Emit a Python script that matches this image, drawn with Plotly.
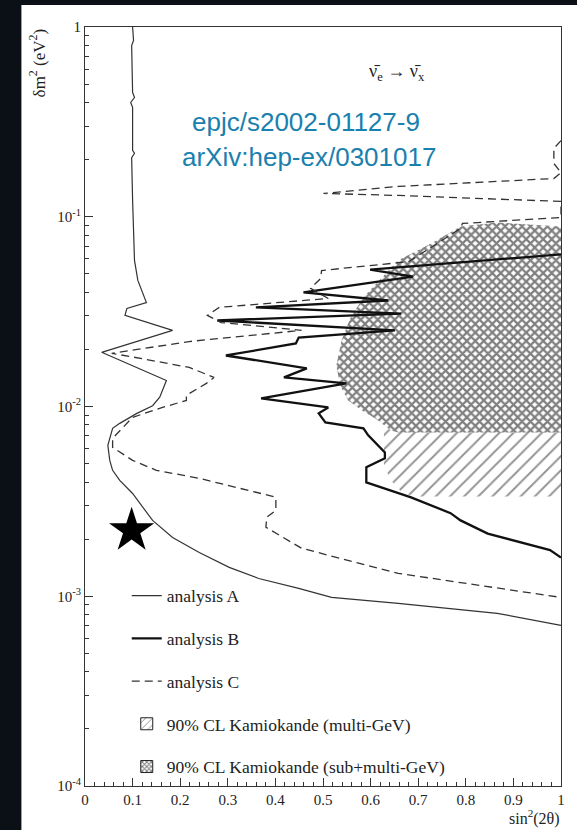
import plotly.graph_objects as go

# ---- data (sin^2(2theta), delta m^2 [eV^2]) ----
a_sin2 = [0.100, 0.102, 0.098, 0.100, 0.104, 0.096, 0.100, 0.100, 0.104, 0.098, 0.100, 0.102, 0.104,
          0.111, 0.129, 0.088, 0.084, 0.184, 0.035, 0.171, 0.157, 0.142, 0.109, 0.073, 0.058, 0.048,
          0.052, 0.058, 0.073, 0.100, 0.142, 0.184, 0.240, 0.303, 0.365, 0.449, 0.518, 0.658, 0.866, 1.0]
a_dm2 = [1.0, 0.849, 0.799, 0.452, 0.425, 0.400, 0.377, 0.224, 0.216, 0.205, 0.122, 0.075, 0.0589,
         0.0462, 0.0353, 0.0329, 0.0302, 0.0252, 0.0193, 0.0137, 0.0112, 0.0101, 0.0092, 0.00815,
         0.00767, 0.00624, 0.00520, 0.00461, 0.00408, 0.00348, 0.00251, 0.00204, 0.00170, 0.00142,
         0.00124, 0.00110, 0.000986, 0.000918, 0.000813, 0.000703]

b_sin2 = [1.0, 0.599, 0.689, 0.459, 0.637, 0.359, 0.664, 0.278, 0.651, 0.449, 0.443, 0.296, 0.466,
          0.418, 0.549, 0.370, 0.511, 0.491, 0.505, 0.585, 0.595, 0.630, 0.630, 0.591, 0.591, 0.685,
          0.768, 0.789, 0.846, 0.977, 1.0]
b_dm2 = [0.0633, 0.0527, 0.0484, 0.0399, 0.0362, 0.0333, 0.0309, 0.0284, 0.0252, 0.0231, 0.0215,
         0.01857, 0.01589, 0.01423, 0.01324, 0.01104, 0.00989, 0.00920, 0.00824, 0.00767, 0.00705,
         0.00573, 0.00533, 0.00478, 0.00398, 0.00332, 0.00274, 0.00251, 0.00214, 0.00175, 0.00160]

c_sin2 = [1.0, 0.985, 0.985, 1.0, 0.985, 0.658, 0.501, 0.658, 1.0, 1.0, 0.793, 0.789, 0.68, 0.497,
          0.495, 0.474, 0.511, 0.282, 0.257, 0.286, 0.455, 0.219, 0.056, 0.094, 0.219, 0.271, 0.255,
          0.213, 0.213, 0.163, 0.100, 0.058, 0.058, 0.100, 0.150, 0.240, 0.386, 0.401, 0.401, 0.382,
          0.380, 0.455, 0.658, 0.866, 1.0]
c_dm2 = [0.252, 0.229, 0.191, 0.171, 0.159, 0.1445, 0.1327, 0.1295, 0.1204, 0.0991, 0.0922, 0.0868,
         0.058, 0.0521, 0.0473, 0.0419, 0.0371, 0.0333, 0.0302, 0.0277, 0.0252, 0.0220, 0.01905,
         0.01836, 0.01607, 0.01423, 0.01324, 0.01145, 0.01077, 0.00989, 0.00877, 0.00679, 0.00609,
         0.00520, 0.00461, 0.00418, 0.00340, 0.00332, 0.00284, 0.00261, 0.00231, 0.00179, 0.00132,
         0.00110, 0.000986]

kam_multi_sin2 = [0.628, 0.628, 0.643, 0.668, 0.699, 1.0, 1.0, 0.628]
kam_multi_dm2 = [0.00895, 0.00489, 0.00408, 0.00348, 0.00336, 0.00336, 0.00895, 0.00895]

kam_sub_sin2 = [1.0, 0.866, 0.789, 0.727, 0.658, 0.622, 0.585, 0.557, 0.539, 0.528, 0.536, 0.553,
                0.585, 0.610, 0.643, 0.658, 1.0, 1.0]
kam_sub_dm2 = [0.0889, 0.0933, 0.0889, 0.0723, 0.0589, 0.0473, 0.0376, 0.0291, 0.0223, 0.01644,
               0.01292, 0.01077, 0.00942, 0.00865, 0.00748, 0.00730, 0.00730, 0.0889]

star_sin2 = [0.098]
star_dm2 = [0.00222]

xtick_vals = [0, 0.1, 0.2, 0.3, 0.4, 0.5, 0.6, 0.7, 0.8, 0.9, 1.0]
xtick_text = ["0", "0.1", "0.2", "0.3", "0.4", "0.5", "0.6", "0.7", "0.8", "0.9", "1"]
ytick_vals = [1e-4, 1e-3, 1e-2, 1e-1, 1]
ytick_text = ["10<sup>-4</sup>", "10<sup>-3</sup>", "10<sup>-2</sup>", "10<sup>-1</sup>", "1"]

SERIF = "Liberation Serif"
INK = "#222222"

fig = go.Figure()

# Kamiokande multi-GeV (single hatch)
fig.add_trace(go.Scatter(
    x=kam_multi_sin2, y=kam_multi_dm2, mode="lines", fill="toself",
    line=dict(width=0, color="rgba(0,0,0,0)"),
    fillcolor="rgba(0,0,0,0)",
    fillpattern=dict(shape="/", size=10, solidity=0.2, fgcolor="#2a2a2a", bgcolor="rgba(0,0,0,0)"),
    showlegend=False, hoverinfo="skip"))
# Kamiokande sub+multi-GeV (cross hatch)
fig.add_trace(go.Scatter(
    x=kam_sub_sin2, y=kam_sub_dm2, mode="lines", fill="toself",
    line=dict(width=0, color="rgba(0,0,0,0)"),
    fillcolor="white",
    fillpattern=dict(shape="x", size=6, solidity=0.6, fgcolor="#000000", bgcolor="white"),
    showlegend=False, hoverinfo="skip"))

fig.add_trace(go.Scatter(x=a_sin2, y=a_dm2, mode="lines", name="analysis A",
                         legendgroup="a", line=dict(color="#333", width=1.2)))
fig.add_trace(go.Scatter(x=b_sin2, y=b_dm2, mode="lines", name="analysis B",
                         legendgroup="b", line=dict(color="#111", width=2.3)))
fig.add_trace(go.Scatter(x=c_sin2, y=c_dm2, mode="lines", name="analysis C",
                         legendgroup="c", line=dict(color="#333", width=1.3, dash="8px,5px")))
fig.add_trace(go.Scatter(x=star_sin2, y=star_dm2, mode="markers", showlegend=False,
                         marker=dict(symbol="star", size=34, color="black")))

# legend-only entries for the hatched regions
fig.add_trace(go.Bar(x=[None], y=[None], name="90% CL Kamiokande (multi-GeV)", legendgroup="d",
                     marker=dict(color="white", line=dict(color="#222", width=1),
                                 pattern=dict(shape="/", size=6, solidity=0.2, fgcolor="#222"))))
fig.add_trace(go.Bar(x=[None], y=[None], name="90% CL Kamiokande (sub+multi-GeV)", legendgroup="e",
                     marker=dict(color="white", line=dict(color="#222", width=1),
                                 pattern=dict(shape="x", size=4, solidity=0.55, fgcolor="#000"))))

# page (white sheet over a dark scan border)
fig.add_shape(type="rect", xref="paper", yref="paper", x0=-0.1336, x1=1.05, y0=-0.07, y1=1.029,
              fillcolor="white", line=dict(width=0), layer="below")

fig.update_layout(
    width=577, height=830, autosize=False,
    margin=dict(l=85, r=13, t=27, b=44),
    paper_bgcolor="#0b1016", plot_bgcolor="white",
    showlegend=True,
    legend=dict(x=0.0877, y=0.2745, xanchor="left", yanchor="top", bgcolor="rgba(0,0,0,0)",
                font=dict(family=SERIF, size=17.5, color=INK), tracegroupgap=17, itemwidth=30),
    xaxis=dict(range=[0, 1], tickvals=xtick_vals, ticktext=xtick_text, ticks="inside", ticklen=8,
               tickwidth=1, tickcolor="#333", showline=True, linecolor="#333", linewidth=1,
               mirror=True, showgrid=False, zeroline=False,
               tickfont=dict(family=SERIF, size=15, color=INK),
               minor=dict(ticks="inside", ticklen=4, dtick=0.02, tickcolor="#333", showgrid=False)),
    yaxis=dict(type="log", range=[-4, 0], tickvals=ytick_vals, ticktext=ytick_text, ticks="inside",
               ticklen=8, tickwidth=1, tickcolor="#333", showline=True, linecolor="#333",
               linewidth=1, mirror=True, showgrid=False, zeroline=False,
               tickfont=dict(family=SERIF, size=15, color=INK),
               minor=dict(ticks="inside", ticklen=4, dtick="D1", tickcolor="#333", showgrid=False)),
    annotations=[
        dict(text="δm<sup>2</sup> (eV<sup>2</sup>)", xref="paper", yref="paper", x=-0.100, y=0.9526,
             textangle=-90, showarrow=False, font=dict(family=SERIF, size=17, color=INK),
             xanchor="center", yanchor="middle"),
        dict(text="sin<sup>2</sup>(2θ)", xref="paper", yref="paper", x=1.002, y=-0.041,
             showarrow=False, font=dict(family=SERIF, size=16, color=INK),
             xanchor="right", yanchor="middle"),
        dict(text="\u03bd\u0304<sub>e</sub> \u2192 \u03bd\u0304<sub>x</sub>", xref="paper", yref="paper",
             x=0.6555, y=0.9407, showarrow=False, font=dict(family=SERIF, size=18, color=INK),
             xanchor="center", yanchor="middle"),
        dict(text="epjc/s2002-01127-9", xref="paper", yref="paper", x=0.4635, y=0.8748,
             showarrow=False, font=dict(family="Liberation Sans", size=26, color="#1a80ae"),
             xanchor="center", yanchor="middle"),
        dict(text="arXiv:hep-ex/0301017", xref="paper", yref="paper", x=0.4697, y=0.8287,
             showarrow=False, font=dict(family="Liberation Sans", size=26, color="#1a80ae"),
             xanchor="center", yanchor="middle"),
    ],
)

fig.write_html("out.html")
